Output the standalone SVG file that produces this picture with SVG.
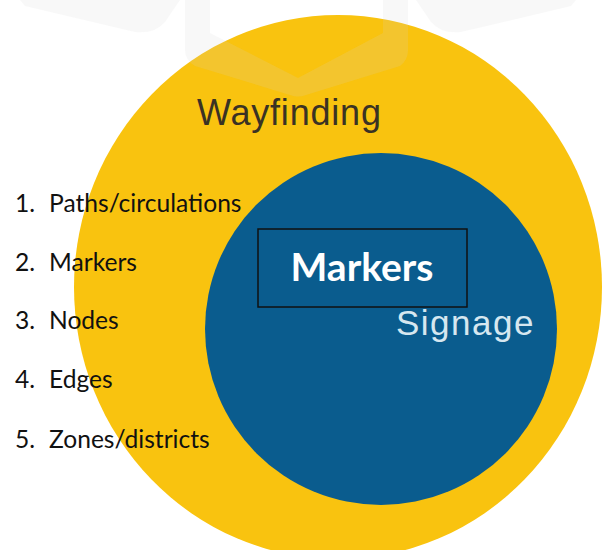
<svg xmlns="http://www.w3.org/2000/svg" width="605" height="550" viewBox="0 0 605 550">
  <style>
    .item { font-family: Lato, "Open Sans", "Liberation Sans", sans-serif; font-size: 24.6px; fill: #111111; }
    .wm { fill: #d6d6d6; opacity: 0.16; }
  </style>
  <rect width="605" height="550" fill="#ffffff"/>
  <g id="wayfinding">
    <ellipse cx="338" cy="287" rx="264" ry="272" fill="#F9C30F"/>
    <text x="197" y="125" font-family="'Liberation Sans', Arial, sans-serif" font-size="36" letter-spacing="0.8" fill="#3a3224">Wayfinding</text>
  </g>
  <g id="signage">
    <circle cx="381" cy="329" r="176" fill="#0A5C8E"/>
    <text x="396" y="335" font-family="'Liberation Sans', Arial, sans-serif" font-size="35" letter-spacing="1.5" fill="#d6e7f0">Signage</text>
  </g>
  <g id="markers">
    <rect x="258" y="229" width="209" height="78" fill="none" stroke="#111111" stroke-width="1.5"/>
    <text x="362" y="281" text-anchor="middle" font-family="Lato, 'Open Sans', sans-serif" font-weight="bold" font-size="39" fill="#ffffff">Markers</text>
  </g>
  <g id="watermark">
    <path class="wm" d="M20,0 L180,0 L165,22 Q155,34 135,32 L25,6 Z"/>
    <path class="wm" d="M576,0 L416,0 L431,22 Q441,34 461,32 L571,6 Z"/>
    <path class="wm" fill-rule="evenodd" d="M185,0 L185,50 Q185,60 195,66 L290,95 Q298,98 306,95 L400,66 Q408,60 408,50 L408,0 Z M210,0 L210,33 L298,78 L383,33 L383,0 Z"/>
  </g>
  <g id="list">
    <text class="item" y="212"><tspan x="15">1.</tspan><tspan x="49">Paths/circulations</tspan></text>
    <text class="item" y="271"><tspan x="15">2.</tspan><tspan x="49">Markers</tspan></text>
    <text class="item" y="329"><tspan x="15">3.</tspan><tspan x="49">Nodes</tspan></text>
    <text class="item" y="388"><tspan x="15">4.</tspan><tspan x="49">Edges</tspan></text>
    <text class="item" y="448"><tspan x="15">5.</tspan><tspan x="49">Zones/districts</tspan></text>
  </g>
  <g id="connectors"></g>
</svg>
